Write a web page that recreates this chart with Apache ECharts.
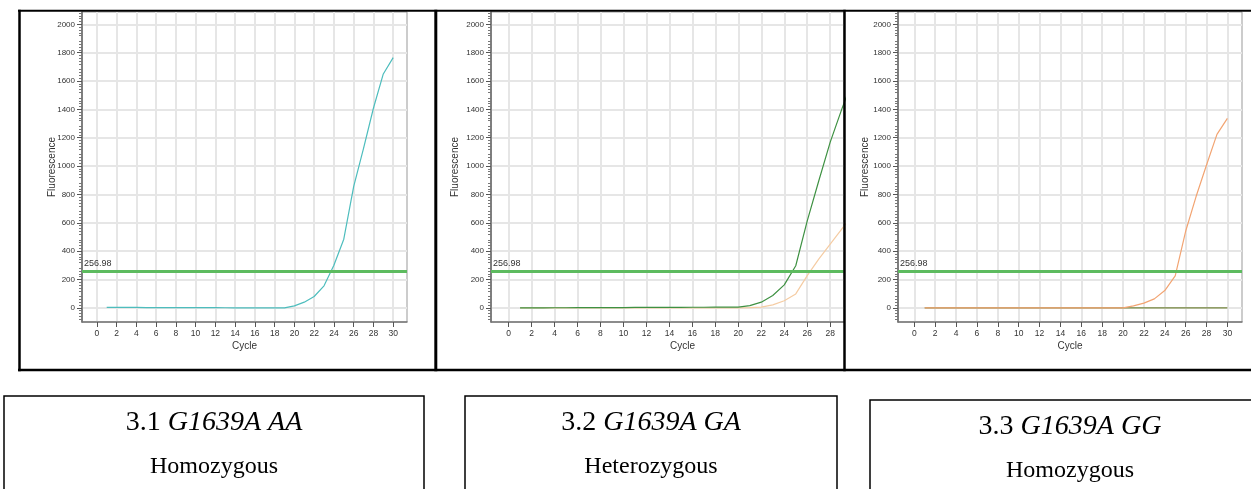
<!DOCTYPE html>
<html>
<head>
<meta charset="utf-8">
<script src="https://cdn.jsdelivr.net/npm/echarts@6/dist/echarts.min.js"></script>
<style>
html,body{margin:0;padding:0;background:#fff;}
#chart{width:1251px;height:489px;}
</style>
</head>
<body>
<div id="chart"></div>
<script>
// ---- data ----
const cycles = [1,2,3,4,5,6,7,8,9,10,11,12,13,14,15,16,17,18,19,20,21,22,23,24,25,26,27,28,29,30];
const aaTeal = [3,3,3,2.5,2,2,2,1.5,1.5,1,1,1,0.5,0,0,0,0,0,0,14,40,80,155,300,484,855,1125,1408,1650,1765];
const gaGreen = [0,0,0,0.5,0.5,1,1,1.5,2,2,2.5,3,3,3.5,3.5,4,4,4.5,5,5,16,40,87,162,297,614,895,1169,1400,1620];
const gaPeach = [0,0,0,0,0,0,0,0,0,0,0,0,0,0,0,0,0,0,0,0,1,5,21,50,98,227,344,450,555,660];
const ggOrange = [0,0,0,0,0,0,0,0,0,0,0,0,0,0,0,0,0,0,0,0,14,33,63,122,226,540,785,1008,1224,1337];
const ggOlive = [0,0,0,0,0,0,0,0,0,0,0,0,0,0,0,0,0,0,0,0,0,0,0,0,0,0,0,0,0,0];
const threshold = 256.98;
const xTickValues = [0,2,4,6,8,10,12,14,16,18,20,22,24,26,28,30];
const yTickValues = [0,200,400,600,800,1000,1200,1400,1600,1800,2000];
const panelLabels = [
  ['3.1 ', 'G1639A AA', 'Homozygous'],
  ['3.2 ', 'G1639A GA', 'Heterozygous'],
  ['3.3 ', 'G1639A GG', 'Homozygous']
];

const pts = arr => cycles.map((c, i) => [c, arr[i]]);
const smallFont = "'Liberation Sans',Arial,sans-serif";
const nameFont = "'Liberation Sans',Arial,sans-serif";
const serif = "'Liberation Serif','Times New Roman',serif";

const grids = [
  {left: 82, top: 12, width: 325, height: 310},
  {left: 491, top: 12, width: 353, height: 310},
  {left: 898, top: 12, width: 344, height: 310}
].map(g => Object.assign(g, {show: true, borderColor: '#999', borderWidth: 1, backgroundColor: '#fff'}));

const xRanges = [[-1.5, 31.4], [-1.53, 29.2], [-1.56, 31.4]];
const yNameGaps = [25, 31, 28];
const xNamePad = [[0,0,0,0], [0,0,0,30], [0,0,0,0]];

const xAxes = xRanges.map((r, i) => ({
  type: 'value', gridIndex: i, min: r[0], max: r[1],
  name: 'Cycle', nameLocation: 'middle', nameGap: 19, nameMoveOverlap: false,
  nameTextStyle: {fontSize: 10, color: '#333', fontFamily: nameFont, padding: xNamePad[i]},
  axisLine: {show: true, onZero: false, lineStyle: {color: '#777', width: 1.5}},
  axisTick: {show: true, customValues: xTickValues, length: 5, lineStyle: {color: '#555'}},
  axisLabel: {customValues: xTickValues, fontSize: 8.5, color: '#333', margin: 7, fontFamily: smallFont,
              formatter: v => String(v)},
  splitLine: {show: true, lineStyle: {color: '#e6e6e6', width: 2}}
}));

const yAxes = [0,1,2].map(i => ({
  type: 'value', gridIndex: i, min: -100, max: 2087, interval: 100,
  name: 'Fluorescence', nameLocation: 'middle', nameGap: yNameGaps[i], nameMoveOverlap: false,
  nameTextStyle: {fontSize: 10, color: '#333', fontFamily: nameFont},
  axisLine: {show: true, onZero: false, lineStyle: {color: '#666', width: 1.5}},
  axisTick: {show: true, customValues: yTickValues, length: 5, lineStyle: {color: '#555'}},
  minorTick: {show: true, splitNumber: 5, length: 3, lineStyle: {color: '#777'}},
  axisLabel: {customValues: yTickValues, fontSize: 8, color: '#333', margin: 7, fontFamily: smallFont,
              formatter: v => String(v)},
  splitLine: {show: true, lineStyle: {color: '#e6e6e6', width: 2}}
}));

const thresholdMark = {
  silent: true, symbol: 'none', animation: false,
  data: [{yAxis: threshold}],
  lineStyle: {color: '#5DBB5F', width: 3, type: 'solid'},
  label: {show: true, position: 'insideStartTop', formatter: String(threshold), color: '#333',
          fontSize: 9, fontFamily: smallFont, distance: [2, 3]}
};

const lineSeries = (name, idx, data, color, withMark) => {
  const s = {
    name, type: 'line', xAxisIndex: idx, yAxisIndex: idx, data: pts(data),
    showSymbol: false, symbol: 'none', lineStyle: {color, width: 1.2}, itemStyle: {color},
    clip: true, animation: false, z: 3
  };
  if (withMark) s.markLine = thresholdMark;
  return s;
};

const series = [
  lineSeries('AA', 0, aaTeal, '#4DBDBD', true),
  lineSeries('GA-peach', 1, gaPeach, '#F5CCA3', false),
  lineSeries('GA-green', 1, gaGreen, '#3E9142', true),
  lineSeries('GG-olive', 2, ggOlive, '#76873F', false),
  lineSeries('GG-orange', 2, ggOrange, '#F2A472', true)
];

// table borders and caption boxes
const lines = [
  [18, 10.7, 1251, 10.7, 2],
  [18, 370, 1251, 370, 2.5],
  [19.5, 9.7, 19.5, 371.3, 2.5],
  [435.8, 9.7, 435.8, 371.3, 3],
  [844.5, 9.7, 844.5, 371.3, 2.5]
];
const graphic = lines.map(l => ({
  type: 'line', z: 100, silent: true,
  shape: {x1: l[0], y1: l[1], x2: l[2], y2: l[3]},
  style: {stroke: '#000', lineWidth: l[4]}
}));
const boxes = [
  {x: 4, y: 396, w: 420},
  {x: 465, y: 396, w: 372},
  {x: 870, y: 400, w: 400}
];
boxes.forEach((b, i) => {
  graphic.push({
    type: 'rect', z: 100, silent: true,
    shape: {x: b.x, y: b.y, width: b.w, height: 140},
    style: {fill: '#fff', stroke: '#000', lineWidth: 1.5}
  });
  const cx = b.x + b.w / 2;
  graphic.push({
    type: 'text', z: 101, silent: true, x: cx, y: b.y + 27,
    style: {
      text: '{n|' + panelLabels[i][0] + '}{i|' + panelLabels[i][1] + '}',
      align: 'center', verticalAlign: 'middle',
      rich: {
        n: {fontFamily: serif, fontSize: 28, fill: '#000'},
        i: {fontFamily: serif, fontSize: 28, fontStyle: 'italic', fill: '#000'}
      }
    }
  });
  graphic.push({
    type: 'text', z: 101, silent: true, x: cx, y: b.y + 71,
    style: {
      text: panelLabels[i][2], align: 'center', verticalAlign: 'middle',
      fontFamily: serif, fontSize: 24, fill: '#000'
    }
  });
});

const chart = echarts.init(document.getElementById('chart'), null, {renderer: 'canvas'});
chart.setOption({
  animation: false,
  backgroundColor: '#fff',
  grid: grids,
  xAxis: xAxes,
  yAxis: yAxes,
  series,
  graphic
});
</script>
</body>
</html>
